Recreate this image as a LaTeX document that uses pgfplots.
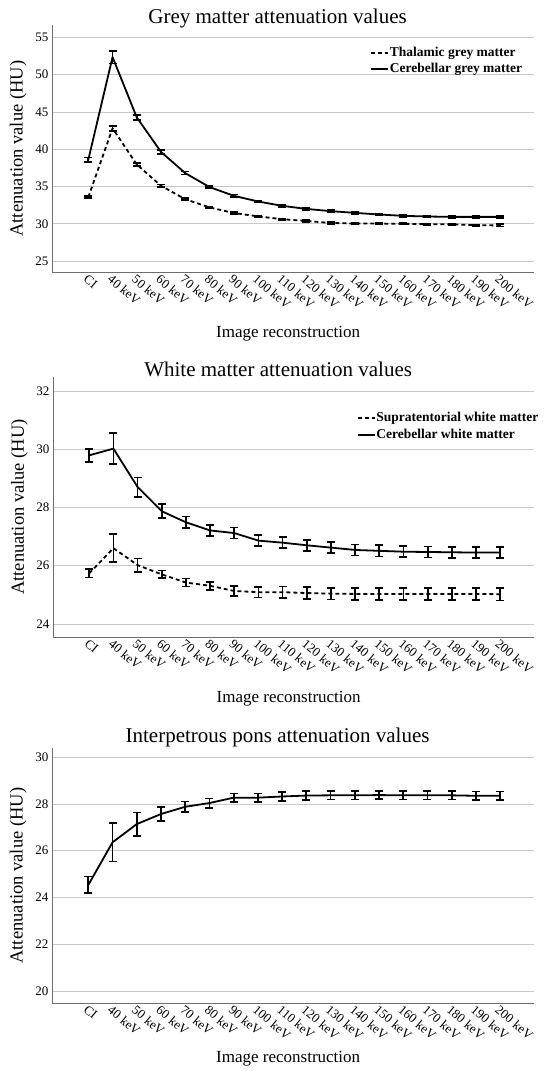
\documentclass[border=0pt]{standalone}
\usepackage{pgfplots}
\pgfplotsset{compat=1.18}
\usepackage{pgfplotstable}
\usepackage{fontspec}
\setmainfont{Liberation Serif}
\definecolor{axisgrey}{HTML}{6E6E6E}
\definecolor{gridgrey}{HTML}{C8C8C8}

% Grey matter: thalamic (dashed)
\pgfplotstableread{
x y e
0 33.58 0.15
1 42.80 0.35
2 37.95 0.20
3 35.10 0.15
4 33.30 0.12
5 32.20 0.12
6 31.45 0.12
7 31.00 0.10
8 30.62 0.10
9 30.38 0.10
10 30.12 0.10
11 30.03 0.10
12 30.03 0.10
13 30.00 0.10
14 29.95 0.10
15 29.93 0.10
16 29.82 0.10
17 29.78 0.15
}\thal
% Grey matter: cerebellar (solid)
\pgfplotstableread{
x y e
0 38.60 0.30
1 52.35 0.85
2 44.27 0.35
3 39.64 0.25
4 36.80 0.20
5 34.93 0.15
6 33.76 0.15
7 33.00 0.12
8 32.41 0.12
9 32.00 0.12
10 31.70 0.12
11 31.47 0.12
12 31.25 0.12
13 31.07 0.12
14 30.98 0.12
15 30.93 0.12
16 30.93 0.12
17 30.93 0.15
}\cergm
% White matter: supratentorial (dashed)
\pgfplotstableread{
x y e
0 25.74 0.15
1 26.60 0.48
2 26.02 0.23
3 25.70 0.13
4 25.42 0.14
5 25.31 0.14
6 25.13 0.17
7 25.09 0.18
8 25.09 0.19
9 25.06 0.20
10 25.04 0.20
11 25.03 0.20
12 25.03 0.20
13 25.03 0.20
14 25.03 0.20
15 25.03 0.20
16 25.03 0.20
17 25.02 0.22
}\supwm
% White matter: cerebellar (solid)
\pgfplotstableread{
x y e
0 29.79 0.22
1 30.02 0.53
2 28.70 0.33
3 27.87 0.24
4 27.49 0.20
5 27.21 0.19
6 27.12 0.19
7 26.86 0.19
8 26.79 0.19
9 26.70 0.19
10 26.62 0.19
11 26.54 0.19
12 26.51 0.19
13 26.48 0.19
14 26.47 0.19
15 26.46 0.19
16 26.45 0.19
17 26.45 0.19
}\cerwm
% Interpetrous pons
\pgfplotstableread{
x y e
0 24.54 0.36
1 26.36 0.82
2 27.14 0.50
3 27.57 0.30
4 27.88 0.22
5 28.04 0.20
6 28.27 0.18
7 28.27 0.18
8 28.32 0.18
9 28.36 0.18
10 28.37 0.18
11 28.37 0.18
12 28.38 0.18
13 28.37 0.18
14 28.37 0.18
15 28.37 0.18
16 28.35 0.18
17 28.35 0.18
}\pons

\pgfplotsset{
  panel/.style={
    scale only axis,
    width=482pt,
    xmin=-1.5, xmax=18.4,
    xtick={0,...,17},
    xticklabels={CI,40 keV,50 keV,60 keV,70 keV,80 keV,90 keV,100 keV,110 keV,120 keV,130 keV,140 keV,150 keV,160 keV,170 keV,180 keV,190 keV,200 keV},
    axis x line*=bottom, axis y line*=left,
    axis line style={color=axisgrey, line width=0.9pt, -},
    ymajorgrids,
    grid style={color=gridgrey, line width=0.8pt},
    major tick length=0pt,
    tick label style={font=\fontsize{13}{15}\selectfont},
    /pgf/number format/assume math mode=true,
    xticklabel style={rotate=-40, anchor=north west, inner sep=1pt},
    title style={font=\fontsize{21}{24}\selectfont, at={(0.468,1)}, anchor=base},
    ylabel style={font=\fontsize{18.5}{22}\selectfont, at={(axis description cs:-0.07,0.5)}, anchor=center},
    xlabel style={font=\fontsize{17}{20}\selectfont, at={(axis description cs:0.49,0)}, anchor=base},
    ylabel={Attenuation value (HU)},
    xlabel={Image reconstruction},
    legend style={draw=none, fill=none, anchor=north west,
      font=\bfseries\fontsize{13.5}{16}\selectfont,
      inner sep=0pt, row sep=0pt,
      nodes={inner sep=0.8pt, text height=11pt, text depth=4pt}},
    legend cell align=left,
    legend image code/.code={\draw[#1] (0pt,0pt) -- (17pt,0pt);},
  },
  eb/.style={black, line width=1.8pt, line join=round,
    error bars/y dir=both, error bars/y explicit,
    error bars/error bar style={line width=1.7pt, solid},
    error bars/error mark options={rotate=90, mark size=4pt, line width=1.7pt, solid}},
  dsh/.style={dash pattern=on 4pt off 3pt},
}

\begin{document}
\begin{tikzpicture}
\path[use as bounding box] (0pt,0pt) rectangle (550pt,-1071pt);

% Panel 1
\begin{axis}[panel,
  at={(52pt,-25pt)}, anchor=north west,
  height=247.3pt,
  ymin=23.5, ymax=56.65,
  ytick={25,30,...,55},
  title={Grey matter attenuation values},
  title style={yshift=-4.5pt},
  xlabel style={yshift=-65.5pt},
  legend style={at={(axis description cs:0.66,0.922)}},
]
\addplot[dsh, eb] table[x=x, y=y, y error=e] {\thal};
\addlegendentry{Thalamic grey matter}
\addplot[eb] table[x=x, y=y, y error=e] {\cergm};
\addlegendentry{Cerebellar grey matter}
\end{axis}

% Panel 2
\begin{axis}[panel,
  at={(53pt,-377pt)}, anchor=north west,
  width=481pt,
  height=260pt,
  ymin=23.55, ymax=32.48,
  ytick={24,26,...,32},
  title={White matter attenuation values},
  title style={yshift=-5pt},
  xlabel style={yshift=-65.5pt},
  legend style={at={(axis description cs:0.631,0.874)}},
]
\addplot[dsh, eb] table[x=x, y=y, y error=e] {\supwm};
\addlegendentry{Supratentorial white matter}
\addplot[eb] table[x=x, y=y, y error=e] {\cerwm};
\addlegendentry{Cerebellar white matter}
\end{axis}

% Panel 3
\begin{axis}[panel,
  at={(52pt,-748.3pt)}, anchor=north west,
  height=254.7pt,
  ymin=19.49, ymax=30.38,
  ytick={20,22,...,30},
  title={Interpetrous pons attenuation values},
  title style={yshift=-0.5pt},
  xlabel style={yshift=-59.5pt},
]
\addplot[eb] table[x=x, y=y, y error=e] {\pons};
\end{axis}
\end{tikzpicture}
\end{document}
